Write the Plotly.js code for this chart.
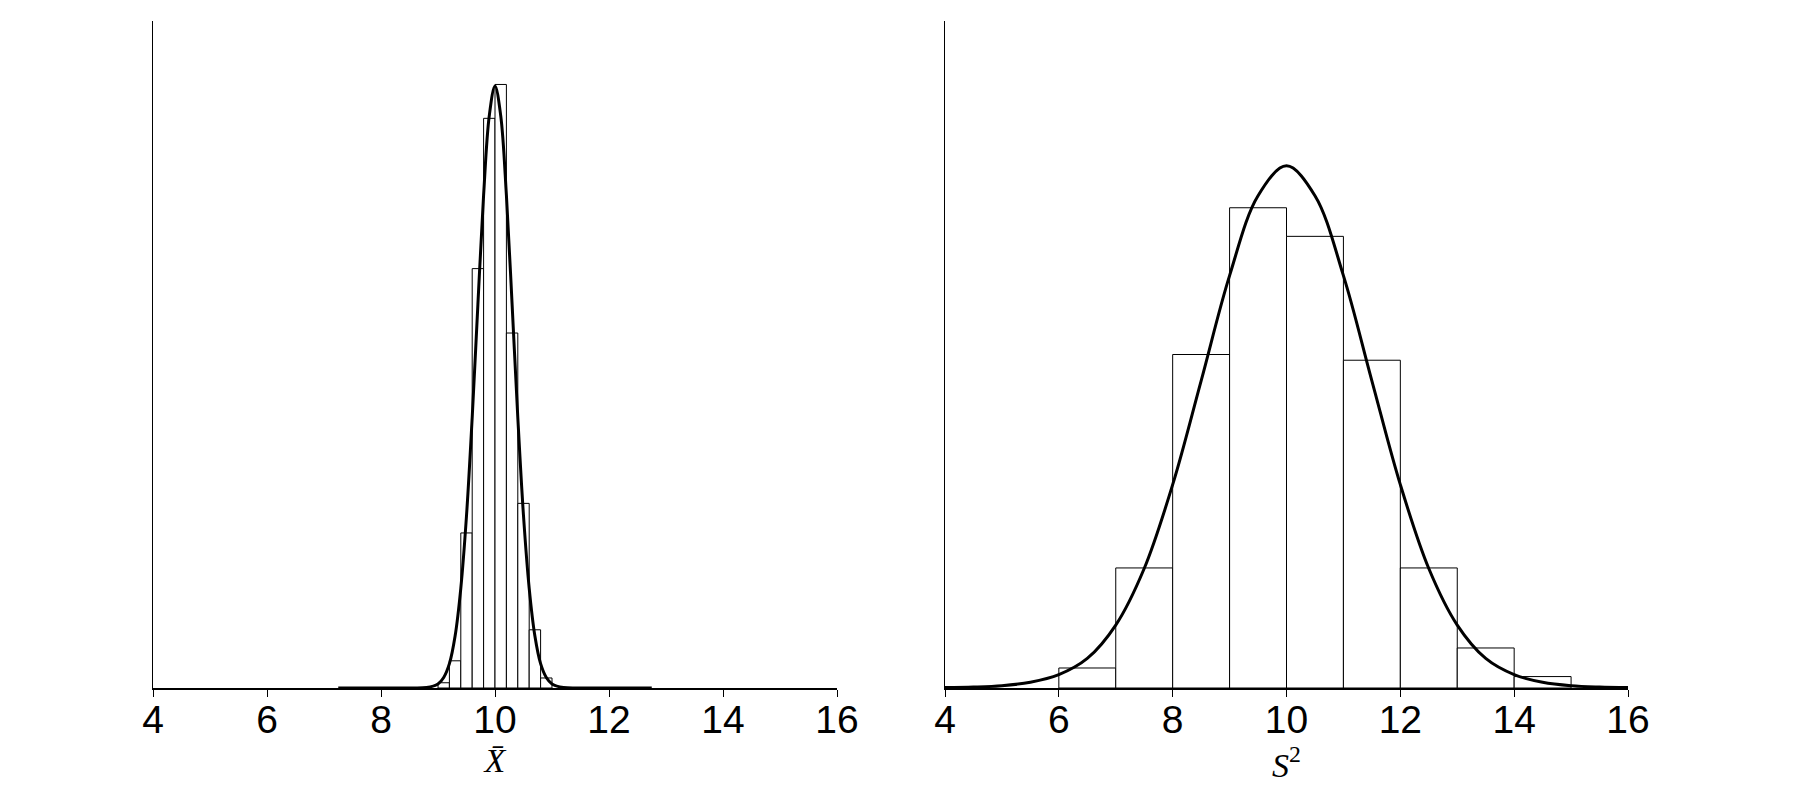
<!DOCTYPE html>
<html>
<head>
<meta charset="utf-8">
<script src="https://cdn.plot.ly/plotly-3.0.1.min.js"></script>
<style>html,body{margin:0;padding:0;background:#fff;}#chart{width:1800px;height:800px;}</style>
</head>
<body>
<div id="chart"></div>
<script>
// Left panel: histogram of sample means (bin width 0.2), density scale
const meanBinCenters = [9.1, 9.3, 9.5, 9.7, 9.9, 10.1, 10.3, 10.5, 10.7, 10.9];
const meanBinDensity = [0.011, 0.057, 0.325, 0.879, 1.194, 1.265, 0.744, 0.387, 0.122, 0.021];
const meanBinWidth = 0.2;

// Left panel: fitted density curve
const meanCurveX = [7.25, 8.0, 8.5, 8.8, 9.0, 9.1, 9.2, 9.3, 9.4, 9.5, 9.6, 9.7, 9.8, 9.9, 10.0,
                    10.1, 10.2, 10.3, 10.4, 10.5, 10.6, 10.7, 10.8, 10.9, 11.0, 11.2, 11.5, 12.0, 12.75];
const meanCurveY = [0.000, 0.000, 0.000, 0.001, 0.0085, 0.022, 0.051, 0.109, 0.209, 0.361, 0.567, 0.804, 1.033, 1.200, 1.262,
                    1.200, 1.033, 0.804, 0.567, 0.361, 0.209, 0.109, 0.051, 0.022, 0.0085, 0.001, 0.000, 0.000, 0.000];

// Right panel: histogram of sample variances (bin width 1), density scale
const varBinCenters = [6.5, 7.5, 8.5, 9.5, 10.5, 11.5, 12.5, 13.5, 14.5];
const varBinDensity = [0.0105, 0.063, 0.175, 0.252, 0.237, 0.172, 0.063, 0.021, 0.006];
const varBinWidth = 1;

// Right panel: fitted density curve
const varCurveX = [4.0, 4.5, 5.0, 5.5, 6.0, 6.5, 7.0, 7.5, 8.0, 8.5, 9.0, 9.5, 10.0,
                   10.5, 11.0, 11.5, 12.0, 12.5, 13.0, 13.5, 14.0, 14.5, 15.0, 15.5, 16.0];
const varCurveY = [0.0002, 0.0005, 0.0012, 0.0030, 0.0070, 0.0155, 0.0330, 0.0627, 0.1067, 0.1612, 0.2164, 0.2583, 0.2740,
                   0.2583, 0.2164, 0.1612, 0.1067, 0.0627, 0.0330, 0.0155, 0.0070, 0.0030, 0.0012, 0.0005, 0.0002];

const xTickVals = [4, 6, 8, 10, 12, 14, 16];

const barStyle = {color: '#ffffff', line: {color: '#000000', width: 1}};
const curveStyle = {color: '#000000', width: 3, shape: 'spline', smoothing: 1};

const traces = [
  {type: 'bar', x: meanBinCenters, y: meanBinDensity, width: meanBinWidth, marker: barStyle, xaxis: 'x', yaxis: 'y', hoverinfo: 'skip'},
  {type: 'scatter', mode: 'lines', x: meanCurveX, y: meanCurveY, line: curveStyle, xaxis: 'x', yaxis: 'y', hoverinfo: 'skip'},
  {type: 'bar', x: varBinCenters, y: varBinDensity, width: varBinWidth, marker: barStyle, xaxis: 'x2', yaxis: 'y2', hoverinfo: 'skip'},
  {type: 'scatter', mode: 'lines', x: varCurveX, y: varCurveY, line: curveStyle, xaxis: 'x2', yaxis: 'y2', hoverinfo: 'skip'}
];

const xAxisBase = {
  range: [4, 16], tickmode: 'array', tickvals: xTickVals, ticktext: xTickVals.map(String),
  showline: true, linecolor: '#000', linewidth: 1.5, ticks: 'outside', ticklen: 7, tickwidth: 1, tickcolor: '#000',
  ticklabelstandoff: -10,
  showgrid: false, zeroline: false,
  tickfont: {family: 'Liberation Sans, Arial, sans-serif', size: 39, color: '#000'},
  fixedrange: true
};
const yAxisBase = {
  showline: true, linecolor: '#000', linewidth: 1.5, ticks: '', showticklabels: false,
  showgrid: false, zeroline: false, fixedrange: true
};
const titleFont = {family: 'Liberation Serif, DejaVu Serif, serif', size: 34, color: '#000'};

const layout = {
  width: 1800, height: 800, autosize: false,
  margin: {l: 0, r: 0, t: 21, b: 112},
  paper_bgcolor: '#fff', plot_bgcolor: '#fff',
  showlegend: false, bargap: 0, barmode: 'overlay',
  xaxis: Object.assign({}, xAxisBase, {domain: [153/1800, 837/1800], anchor: 'y',
    title: {text: '<i>X\u0304</i>', font: titleFont, standoff: 8}}),
  yaxis: Object.assign({}, yAxisBase, {range: [0, 1.398], anchor: 'x'}),
  xaxis2: Object.assign({}, xAxisBase, {domain: [945/1800, 1628/1800], anchor: 'y2',
    title: {text: '<i>S</i><sup>2</sup>', font: titleFont, standoff: 8}}),
  yaxis2: Object.assign({}, yAxisBase, {range: [0, 0.350], anchor: 'x2'})
};

Plotly.newPlot('chart', traces, layout, {displayModeBar: false, staticPlot: true});
</script>
</body>
</html>
